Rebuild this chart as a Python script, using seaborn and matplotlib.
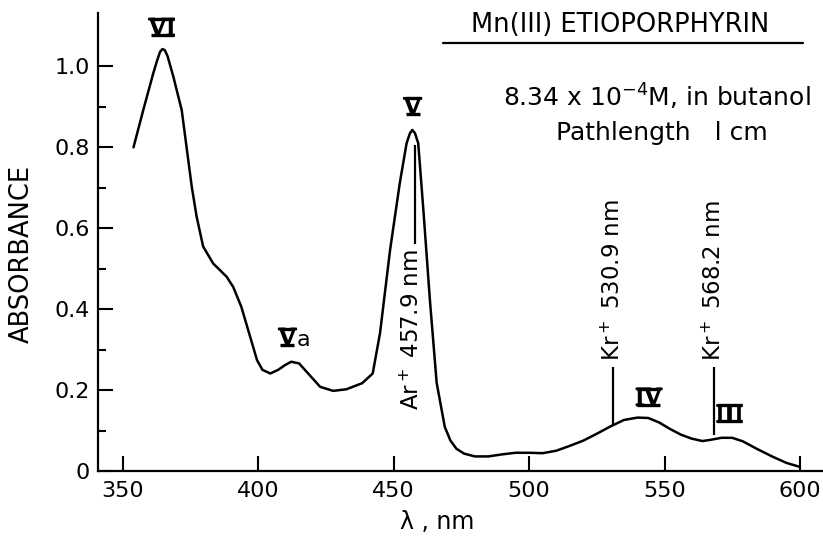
import matplotlib
matplotlib.use("Agg")
import matplotlib.pyplot as plt
import matplotlib.patheffects as pe
from matplotlib.lines import Line2D
import seaborn as sns

# ------------------------------------------------------------
# Data (wavelength in nm, absorbance)
# ------------------------------------------------------------
wavelength = [354, 357.6, 361.3, 362.6, 363.8, 364.7, 365.6, 366.6, 368.7, 371.8,
              373.6, 375.5, 377.3, 379.7, 383.4, 388.4, 390.8, 393.8, 396.7, 399.6,
              401.6, 404.5, 407.4, 410, 412.2, 415.1, 419, 422.9, 427.7, 432.6,
              438.4, 442.3, 445, 448.7, 452.3, 454.8, 456.0, 456.9, 457.9, 459.1,
              461, 463.4, 465.9, 468.9, 471, 473.2, 476, 480, 485, 490,
              495, 500, 505, 510, 515, 520, 525, 530, 535, 540,
              544, 548, 552, 556, 560, 564, 567, 571, 575, 579,
              584, 590, 595, 600]
absorbance = [0.80, 0.892, 0.983, 1.012, 1.036, 1.043, 1.040, 1.025, 0.975, 0.892,
              0.80, 0.703, 0.629, 0.555, 0.513, 0.48, 0.455, 0.406, 0.34, 0.274,
              0.25, 0.241, 0.25, 0.262, 0.27, 0.266, 0.237, 0.208, 0.198, 0.202,
              0.217, 0.241, 0.341, 0.546, 0.712, 0.81, 0.834, 0.843, 0.835, 0.81,
              0.645, 0.423, 0.218, 0.109, 0.075, 0.055, 0.043, 0.036, 0.036, 0.041,
              0.045, 0.045, 0.044, 0.05, 0.062, 0.075, 0.092, 0.11, 0.126, 0.132,
              0.131, 0.12, 0.104, 0.09, 0.08, 0.074, 0.077, 0.082, 0.082, 0.073,
              0.055, 0.035, 0.02, 0.01]

# band labels (roman numeral, suffix, baseline position)
band_names = ["VI", "V", "V", "IV", "III"]
band_suffix = ["", "", "a", "", ""]
band_x = [364.6, 457.0, 410.8, 544.0, 574.0]
band_y = [1.076, 0.880, 0.310, 0.162, 0.121]

# laser lines
laser_names = ["Ar$^+$ 457.9 nm", "Kr$^+$ 530.9 nm", "Kr$^+$ 568.2 nm"]
laser_nm = [457.9, 530.9, 568.2]
laser_lo = [0.56, 0.114, 0.089]
laser_hi = [0.805, 0.258, 0.258]

x_ticks = [350, 400, 450, 500, 550, 600]
y_ticks = [0, 0.2, 0.4, 0.6, 0.8, 1.0]
y_tick_labels = ["0", "0.2", "0.4", "0.6", "0.8", "1.0"]
y_minor = [0.1, 0.3, 0.5, 0.7, 0.9]

# ------------------------------------------------------------
# Style
# ------------------------------------------------------------
sns.set_theme(style="ticks")
plt.rcParams["font.family"] = ["DejaVu Sans"]
plt.rcParams["mathtext.default"] = "regular"
plt.rcParams["axes.linewidth"] = 1.6
plt.rcParams["text.color"] = "black"
plt.rcParams["axes.labelcolor"] = "black"
plt.rcParams["axes.edgecolor"] = "black"

fig = plt.figure(figsize=(8.23, 5.36), dpi=100)
ax = fig.add_axes([0.1194, 0.1213, 0.8806, 0.8544])

sns.lineplot(x=wavelength, y=absorbance, sort=False, estimator=None,
             color="black", lw=1.8, ax=ax)

ax.set_xlim(341, 608.5)
ax.set_ylim(0, 1.132)
sns.despine(ax=ax)

ax.set_xticks(x_ticks)
ax.set_yticks(y_ticks)
ax.set_yticklabels(y_tick_labels)
ax.set_yticks(y_minor, minor=True)
ax.tick_params(axis="both", which="major", direction="in", length=11,
               width=1.5, labelsize=16, color="black", labelcolor="black")
ax.tick_params(axis="x", pad=7)
ax.tick_params(axis="y", pad=6)
ax.tick_params(axis="y", which="minor", direction="in", length=6, width=1.5,
               color="black")

ax.set_xlabel("λ , nm", fontsize=17)
ax.xaxis.set_label_coords(0.467, -0.085)
ax.set_ylabel("ABSORBANCE", fontsize=18.5)
ax.yaxis.set_label_coords(-0.087, 0.474)

# laser lines with rotated labels
ax.vlines(laser_nm, laser_lo, laser_hi, color="black", lw=1.6)
ax.text(laser_nm[0] - 0.9, laser_lo[0] - 0.012, laser_names[0], rotation=90,
        ha="center", va="top", fontsize=16.5)
for name, nm, hi in zip(laser_names[1:], laser_nm[1:], laser_hi[1:]):
    ax.text(nm, hi + 0.015, name, rotation=90, ha="center", va="bottom",
            fontsize=16.5)

# title block
ax.text(533.5, 1.103, "Mn(III) ETIOPORPHYRIN", ha="center", va="center",
        fontsize=18.5, clip_on=False)
ax.plot([468.2, 601.0], [1.058, 1.058], color="black", lw=1.6, clip_on=False)
ax.text(547.2, 0.925, "8.34 x 10$^{-4}$M, in butanol", ha="center",
        va="center", fontsize=18)
ax.text(549.0, 0.836, "Pathlength   l cm", ha="center", va="center", fontsize=18)

# roman numeral band labels (bars drawn at baseline and cap height)
NUM_SIZE = 17
band_texts = []
for name, x, y in zip(band_names, band_x, band_y):
    t = ax.text(x, y, name, ha="center", va="baseline", fontsize=NUM_SIZE,
                family="DejaVu Serif",
                path_effects=[pe.withStroke(linewidth=1.2, foreground="black")])
    band_texts.append(t)

fig.canvas.draw()
inv = fig.transFigure.inverted()
cap = 0.729 * NUM_SIZE * fig.dpi / 72.0
for t, suffix, x, y in zip(band_texts, band_suffix, band_x, band_y):
    bb = t.get_window_extent()
    base = ax.transData.transform((x, y))[1]
    for yy in (base + 0.8, base + cap - 0.3):
        p0 = inv.transform((bb.x0 + 1.5, yy))
        p1 = inv.transform((bb.x1 - 1.5, yy))
        fig.add_artist(Line2D([p0[0], p1[0]], [p0[1], p1[1]],
                              color="black", lw=2.4, solid_capstyle="butt"))
    if suffix:
        p = inv.transform((bb.x1 + 1, base))
        fig.text(p[0], p[1], suffix, ha="left", va="baseline", fontsize=16)

fig.savefig("out.png", dpi=100)
